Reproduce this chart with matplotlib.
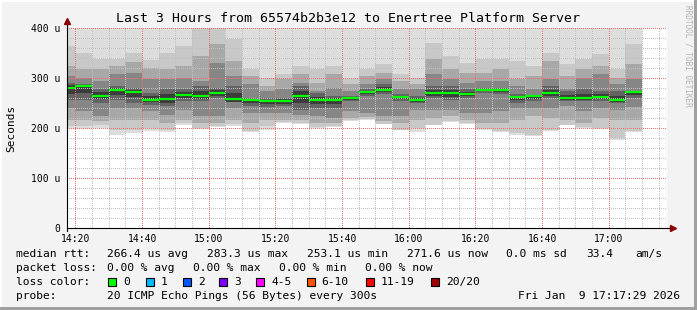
import matplotlib
matplotlib.use("Agg")
import matplotlib.pyplot as plt
from matplotlib.patches import Rectangle
from matplotlib.lines import Line2D
import numpy as np

# ---------------- data ----------------
# 5-minute intervals (start time of each interval)
interval_start = ["14:15", "14:20", "14:25", "14:30", "14:35", "14:40", "14:45",
                  "14:50", "14:55", "15:00", "15:05", "15:10", "15:15", "15:20",
                  "15:25", "15:30", "15:35", "15:40", "15:45", "15:50", "15:55",
                  "16:00", "16:05", "16:10", "16:15", "16:20", "16:25", "16:30",
                  "16:35", "16:40", "16:45", "16:50", "16:55", "17:00", "17:05"]
interval_minutes = 5

# median RTT per interval (microseconds)
median_rtt = [281, 283.3, 265, 276, 272, 257, 259, 267, 265, 270, 259, 256, 253.1, 254,
              265, 256, 256, 260, 272, 276, 263, 256, 270, 270, 268, 277, 276, 262,
              264, 270, 260, 260, 262, 256, 271.6]

# smoke band edges (microseconds): sorted ping quantile pairs, outer -> inner
ping_min = [198, 198, 201, 187, 190, 194, 192, 207, 198, 203, 205, 192, 197, 210,
            209, 200, 203, 214, 217, 208, 196, 192, 206, 213, 209, 197, 192, 187,
            184, 195, 206, 200, 198, 177, 192]
lo2 = [205, 205, 207, 197, 197, 200, 197, 211, 200, 204, 209, 194, 204, 212,
       211, 202, 204, 216, 219, 209, 197, 200, 207, 214, 211, 198, 194, 190,
       187, 197, 207, 203, 200, 180, 194]
lo4 = [217, 217, 215, 217, 217, 217, 211, 217, 211, 211, 217, 211, 217, 217,
       217, 211, 211, 221, 222, 214, 211, 217, 221, 224, 217, 211, 211, 217,
       224, 221, 217, 211, 221, 217, 217]
lo6 = [241, 235, 224, 241, 240, 234, 227, 237, 224, 224, 241, 231, 231, 231,
       227, 224, 221, 234, 231, 224, 224, 237, 237, 237, 231, 231, 234, 241,
       241, 241, 244, 234, 241, 237, 243]
lo8 = [257, 257, 251, 257, 251, 247, 244, 254, 254, 261, 254, 244, 243, 245,
       237, 241, 241, 254, 264, 268, 254, 251, 261, 257, 261, 271, 268, 251,
       254, 261, 254, 254, 254, 251, 261]
lo10 = [269, 270, 258, 266, 262, 252, 251, 260, 259, 265, 252, 250, 248, 249,
        251, 248, 248, 257, 268, 272, 258, 253, 265, 263, 264, 274, 272, 256,
        259, 265, 257, 257, 258, 253, 266]
hi10 = [286, 286, 272, 280, 277, 264, 268, 273, 274, 276, 271, 259, 257, 258,
        274, 263, 260, 262, 275, 282, 265, 260, 277, 277, 273, 279, 278, 265,
        266, 277, 267, 269, 268, 265, 274]
hi8 = [291, 288, 278, 284, 281, 271, 278, 278, 284, 281, 284, 261, 261, 261,
       284, 271, 264, 264, 278, 288, 268, 264, 284, 284, 278, 281, 281, 268,
       264, 284, 274, 278, 274, 274, 274]
hi6 = [304, 300, 294, 308, 311, 298, 298, 301, 294, 331, 304, 288, 274, 278,
       291, 274, 281, 274, 288, 298, 278, 278, 308, 298, 291, 294, 294, 284,
       278, 298, 278, 301, 308, 288, 298]
hi4 = [325, 318, 318, 325, 333, 321, 318, 325, 345, 368, 335, 304, 284, 298,
       308, 291, 308, 288, 304, 311, 294, 288, 338, 318, 311, 311, 318, 298,
       304, 335, 304, 318, 325, 301, 328]
hi2 = [365, 351, 339, 339, 351, 337, 351, 364, 400, 400, 378, 318, 301, 308,
       325, 318, 325, 298, 318, 328, 308, 301, 370, 345, 331, 339, 339, 335,
       325, 351, 328, 339, 348, 318, 368]

ytick_values = [0, 100, 200, 300, 400]
ytick_labels = ["0", "100 u", "200 u", "300 u", "400 u"]
xtick_labels = ["14:20", "14:40", "15:00", "15:20", "15:40", "16:00",
                "16:20", "16:40", "17:00"]
window_start = "14:17:29"
window_hours = 3

legend_boxes = ["0", "1", "2", "3", "4-5", "6-10", "11-19", "20/20"]
legend_colors = ["#00ff00", "#00b8ff", "#0059ff", "#7e00ff", "#ff00ff",
                 "#ff5500", "#ff0000", "#a10000"]

# ---------------- helpers ----------------
def to_min(s):
    parts = [int(p) for p in s.split(":")]
    m = parts[0] * 60 + parts[1]
    if len(parts) > 2:
        m += parts[2] / 60.0
    return m

W, H = 697, 310
PW, PH = 600, 200   # plot area in pixels
FONT = "DejaVu Sans Mono"
plt.rcParams["font.family"] = FONT

fig = plt.figure(figsize=(W / 100, H / 100), dpi=100)
fig.patch.set_facecolor("#f3f3f3")

def fx(px):
    return px / W

def fy(py):
    return 1 - py / H

# plot area: x 67..667, y 28..228 (pixels)
ax = fig.add_axes([fx(67), fy(228), PW / W, PH / H])
ax.set_facecolor("white")

starts = np.array([to_min(s) for s in interval_start], dtype=float)
edges = np.append(starts, starts[-1] + interval_minutes)
x0 = to_min(window_start)
x1 = x0 + window_hours * 60
ytop = ytick_values[-1]

def ext(a):
    a = np.asarray(a, dtype=float)
    return np.append(a, a[-1])

top_edge = np.full(len(edges), ytop + 50.0)
bands = [
    (ext(ping_min), top_edge, "#dddddd"),
    (ext(lo2), ext(hi2), "#c8c8c8"),
    (ext(lo4), ext(hi4), "#a8a8a8"),
    (ext(lo6), ext(hi6), "#868686"),
    (ext(lo8), ext(hi8), "#646464"),
    (ext(lo10), ext(hi10), "#3c3c3c"),
]
for lo, hi, col in bands:
    ax.fill_between(edges, lo, hi, step="post", color=col, linewidth=0,
                    antialiased=False, zorder=1)

ax.hlines(median_rtt, starts, starts + interval_minutes, colors="#00ff00",
          linewidth=1.6, zorder=4)

# ---- dotted grid, rendered pixel-exact as an overlay image ----
xt = [to_min(s) for s in xtick_labels]
x_minor = np.arange(to_min("14:20") - 5, x1, 5)
y_minor = np.arange(0, ytop + 1, 20)

grid = np.zeros((PH, PW, 4), dtype=np.uint8)
minor_rgba = (192, 192, 192, 255)
major_rgba = (240, 112, 112, 255)

def col_of(v):
    return int(round((v - x0) / (x1 - x0) * PW))

def row_of(v):
    return int(round((ytop - v) / ytop * PH))

def hline(v, rgba):
    r = row_of(v)
    if 0 <= r < PH:
        grid[r, 0::2, :] = rgba

def vline(v, rgba):
    c = col_of(v)
    if 0 <= c < PW:
        grid[1::2, c, :] = rgba

for v in y_minor:
    hline(v, minor_rgba)
for v in x_minor:
    vline(v, minor_rgba)
for v in ytick_values:
    hline(v, major_rgba)
for v in xt:
    vline(v, major_rgba)

ax.imshow(grid, extent=(x0, x1, 0, ytop), aspect="auto",
          interpolation="nearest", zorder=2.5)

ax.set_xlim(x0, x1)
ax.set_ylim(0, ytop)
ax.set_xticks(xt)
ax.set_xticklabels(xtick_labels)
ax.set_yticks(ytick_values)
ax.set_yticklabels(ytick_labels)

ax.tick_params(which="both", length=0)
ax.tick_params(axis="x", pad=4.5, labelsize=7)
ax.tick_params(axis="y", pad=5, labelsize=7)

for side in ["top", "right"]:
    ax.spines[side].set_visible(False)
for side in ["left", "bottom"]:
    ax.spines[side].set_color("black")
    ax.spines[side].set_linewidth(0.8)
    ax.spines[side].set_zorder(5)

# axis extension + arrows
ax.add_line(Line2D([1.0, 1.008], [0, 0], transform=ax.transAxes, color="black",
                   linewidth=0.8, clip_on=False, zorder=5))
ax.add_line(Line2D([0, 0], [1.0, 1.03], transform=ax.transAxes, color="black",
                   linewidth=0.8, clip_on=False, zorder=5))
ax.add_line(Line2D([0, 0], [0, -0.015], transform=ax.transAxes, color="black",
                   linewidth=0.8, clip_on=False, zorder=5))
ax.plot([1.01], [0], marker=">", markersize=4, color="#8b0000",
        transform=ax.transAxes, clip_on=False, zorder=6)
ax.plot([0], [1.035], marker="^", markersize=4, color="#8b0000",
        transform=ax.transAxes, clip_on=False, zorder=6)

# ---------------- texts ----------------
fig.text(fx(348.5), fy(19), "Last 3 Hours from 65574b2b3e12 to Enertree Platform Server",
         ha="center", va="center", fontsize=9.5, color="black")
fig.text(fx(11), fy(128), "Seconds", rotation=90, ha="center", va="center",
         fontsize=8)
fig.text(fx(688), fy(5), "RRDTOOL / TOBI OETIKER", rotation=270, ha="center",
         va="top", fontsize=5.6, color="#b4b4b4")

fs = 8.1
def t(x, y, s, **kw):
    fig.text(fx(x), fy(y), s, ha=kw.pop("ha", "left"), va="center",
             fontsize=fs, **kw)

y1, y2, y3, y4 = 254, 268, 282, 296
t(16, y1, "median rtt:")
t(107, y1, "266.4 us avg")
t(207, y1, "283.3 us max")
t(307, y1, "253.1 us min")
t(407, y1, "271.6 us now")
t(506.5, y1, "0.0 ms sd")
t(586, y1, "33.4")
t(635, y1, "am/s")

t(16, y2, "packet loss:")
t(107, y2, "0.00 % avg")
t(193, y2, "0.00 % max")
t(279, y2, "0.00 % min")
t(365, y2, "0.00 % now")

t(16, y3, "loss color:")
box_x = [108.3, 145.7, 182.7, 219.3, 256, 306.7, 365.7, 430.7]
for bx, lab, col in zip(box_x, legend_boxes, legend_colors):
    fig.patches.append(Rectangle((fx(bx), fy(y3 + 4)), 8 / W, 8 / H,
                                 transform=fig.transFigure, facecolor=col,
                                 edgecolor="black", linewidth=0.8))
    t(bx + 15, y3, lab)

t(16, y4, "probe:")
t(107, y4, "20 ICMP Echo Pings (56 Bytes) every 300s")
t(680, y4, "Fri Jan  9 17:17:29 2026", ha="right")

# 3D-ish frame
fig.patches.append(Rectangle((0, 0), 1, 3 / H, transform=fig.transFigure,
                             facecolor="#a0a0a0", edgecolor="none"))
fig.patches.append(Rectangle((1 - 3 / W, 0), 3 / W, 1, transform=fig.transFigure,
                             facecolor="#a0a0a0", edgecolor="none"))
fig.patches.append(Rectangle((0, 1 - 2 / H), 1 - 3 / W, 2 / H,
                             transform=fig.transFigure, facecolor="#ffffff",
                             edgecolor="none"))
fig.patches.append(Rectangle((0, 3 / H), 2 / W, 1 - 3 / H,
                             transform=fig.transFigure, facecolor="#ffffff",
                             edgecolor="none"))

fig.savefig("out.png", dpi=100, facecolor=fig.get_facecolor())
